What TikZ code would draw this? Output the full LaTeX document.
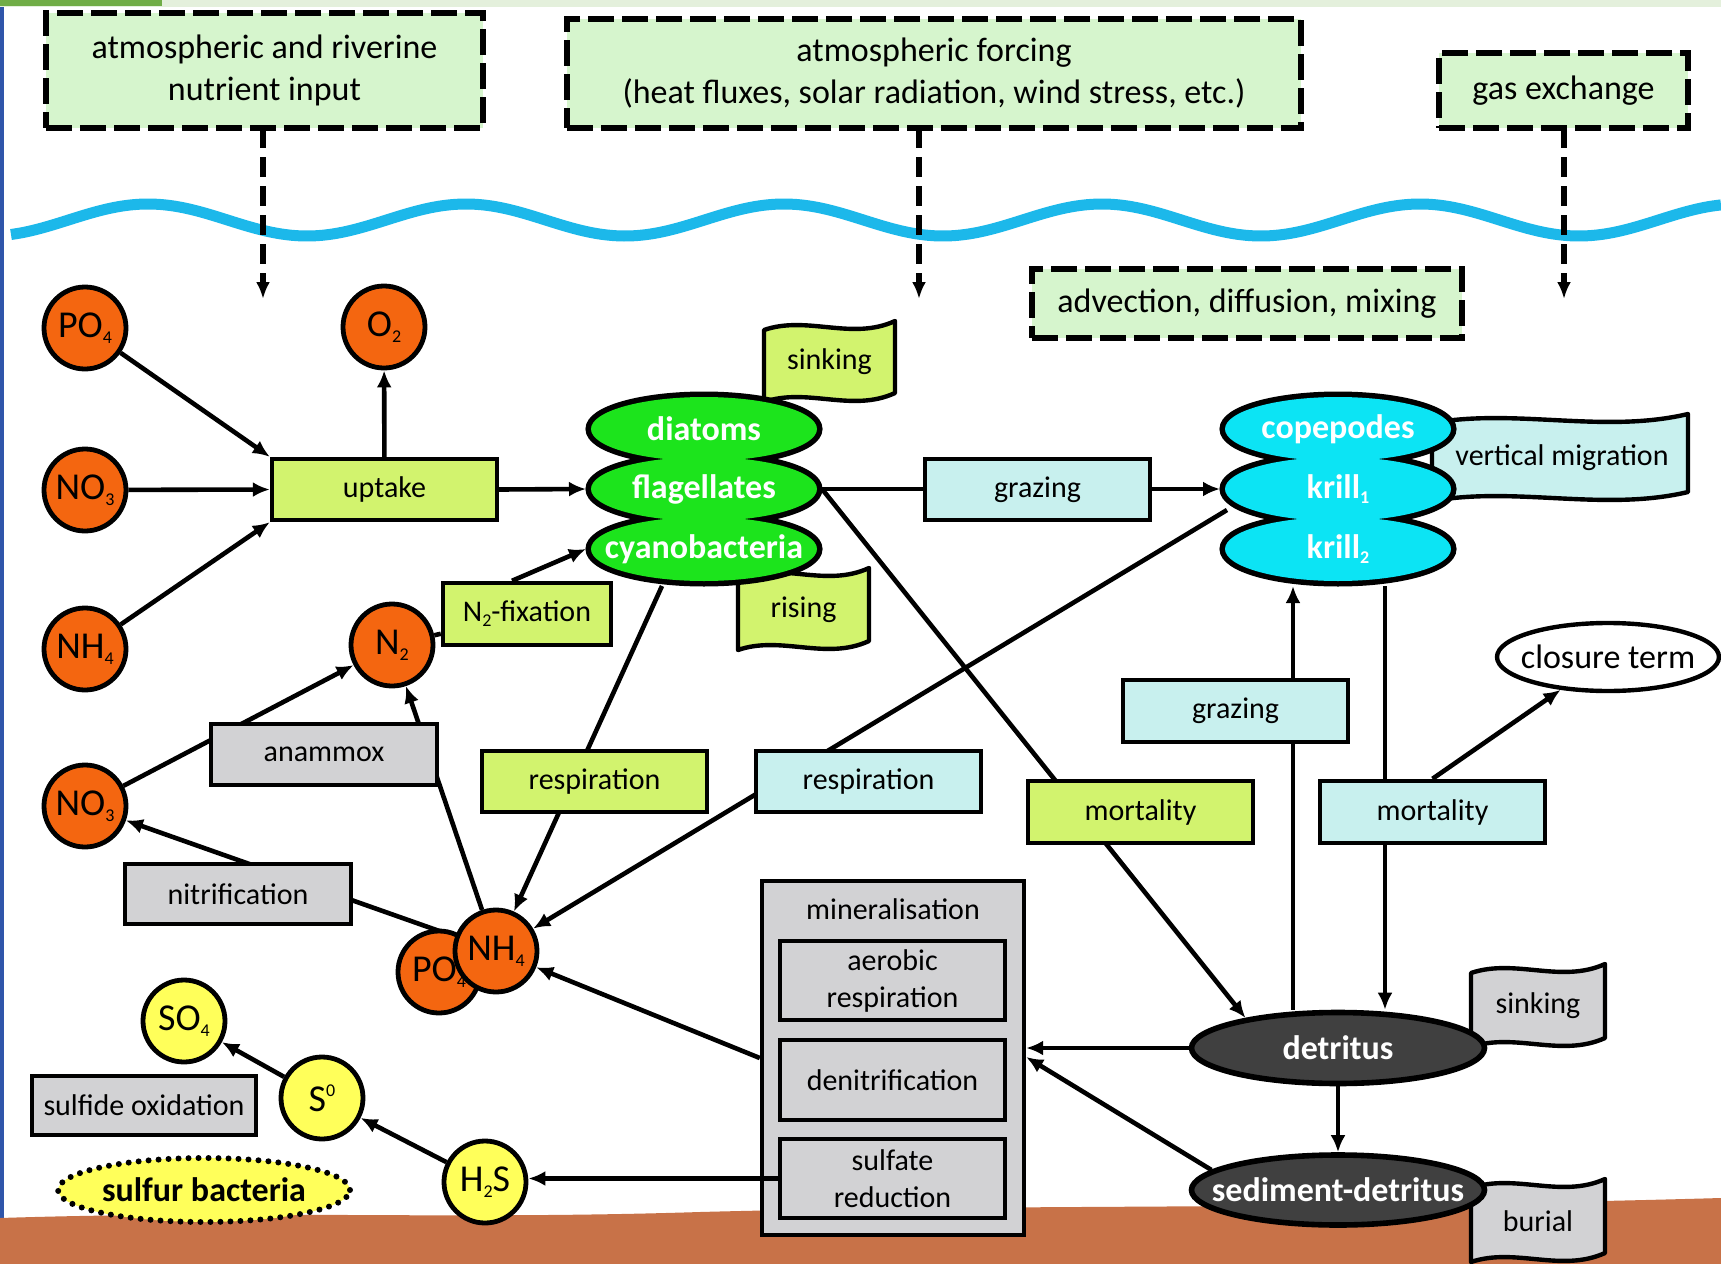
\documentclass[tikz,border=0pt]{standalone}
\usepackage{fontspec}
\setmainfont{Carlito}
\usetikzlibrary{arrows.meta,calc,shapes.geometric}
\pgfdeclarelayer{back}
\pgfdeclarelayer{lines}
\pgfsetlayers{back,lines,main}
\definecolor{topg}{RGB}{214,245,205}
\definecolor{lime}{RGB}{210,243,110}
\definecolor{lcy}{RGB}{200,240,238}
\definecolor{lgr}{RGB}{210,210,212}
\definecolor{orng}{RGB}{244,102,16}
\definecolor{ylw}{RGB}{255,255,90}
\definecolor{grn}{RGB}{28,228,28}
\definecolor{cyn}{RGB}{12,228,244}
\definecolor{dgr}{RGB}{64,64,64}
\definecolor{wavec}{RGB}{28,184,234}
\definecolor{sedc}{RGB}{200,114,72}
\definecolor{stripl}{RGB}{228,240,220}
\definecolor{stripd}{RGB}{112,173,71}
\definecolor{edgeb}{RGB}{47,85,170}
\newcommand\mysub[1]{\raisebox{-0.35ex}{\fontsize{9}{9}\selectfont #1}}
\newcommand\mysup[1]{\raisebox{0.85ex}{\fontsize{9}{9}\selectfont #1}}
\newcommand\bx[7]{\node[#6, minimum width={(#4-#2)*0.5pt}, minimum height={(#5-#3)*0.5pt}] (#1) at ({(#2+#4)/2},{(#3+#5)/2}) {#7};}
\newcommand\wflag[5]{%
  \filldraw[line width=2.2pt, line join=round, fill=#5] ({#1},{#2+4}) .. controls ({#1+0.33*(#3-#1)},{#2-11}) and ({#1+0.67*(#3-#1)},{#2+15}) .. ({#3},{#2-5}) -- ({#3},{#4-5}) .. controls ({#1+0.67*(#3-#1)},{#4+15}) and ({#1+0.33*(#3-#1)},{#4-11}) .. ({#1},{#4+4}) -- cycle;}
\begin{document}
\begin{tikzpicture}[x=0.5pt,y=-0.5pt,
 f17/.style={font=\fontsize{17}{21}\selectfont},
 f15/.style={font=\fontsize{15}{18.5}\selectfont},
 topbox/.style={draw, line width=3pt, dash pattern=on 13pt off 4pt, fill=topg, align=center, f17, inner sep=0, outer sep=0},
 pbox/.style={draw, line width=2.2pt, inner sep=0, f15, align=center},
 lbox/.style={pbox, fill=lime},
 cbox/.style={pbox, fill=lcy},
 gbox/.style={pbox, fill=lgr},
 nut/.style={circle, draw, line width=2.4pt, fill=orng, minimum size=41pt, inner sep=0, font=\fontsize{19}{19}\selectfont},
 ynut/.style={nut, fill=ylw},
 blobn/.style={ellipse, minimum width=118pt, minimum height=37pt, inner sep=0, outer sep=0},
 wtxt/.style={text=white, font=\fontsize{17}{21}\selectfont\bfseries},
 btxt/.style={font=\fontsize{17}{21}\selectfont\bfseries},
 arr/.style={line width=2.3pt, -{Latex[length=8.5pt,width=7.5pt]}},
 ln/.style={line width=2.3pt},
 dar/.style={line width=2.7pt, dash pattern=on 10pt off 4.5pt, -{Latex[length=8.5pt,width=7pt]}}]
\useasboundingbox (0,0) rectangle (1721,1264);
\begin{pgfonlayer}{back}
\fill[white] (0,0) rectangle (1721,1264);
\fill[stripl] (0,0) rectangle (1721,7);
\fill[stripd] (0,0) rectangle (162,6);
\fill[edgeb] (0,7) rectangle (4,1264);
\fill[sedc] (0,1218) .. controls (250,1210) and (450,1220) .. (700,1212) .. controls (1000,1204) and (1300,1210) .. (1721,1198) -- (1721,1264) -- (0,1264) -- cycle;
\draw[wavec, line width=5.5pt] plot[domain=11:1721, samples=160, smooth] (\x, {220-16*sin(1.1321*(\x-68.5))});
\end{pgfonlayer}

% top boxes
\bx{box1}{46}{13}{483}{128}{topbox}{atmospheric and riverine\\nutrient input}
\bx{box2}{567}{19}{1301}{128}{topbox}{atmospheric forcing\\(heat fluxes, solar radiation, wind stress, etc.)}
\bx{box3}{1439}{53}{1688}{128}{topbox}{gas exchange}
\bx{box4}{1032}{269}{1462}{338}{topbox}{advection, diffusion, mixing}
\coordinate (d1) at (263,299);
\coordinate (d2) at (919,299);
\coordinate (d3) at (1564,299);

% flags
\wflag{764}{326}{895}{398}{lime}
\node[f15] (fsink1) at (829.5,362) {sinking};
\wflag{738}{573}{869}{646}{lime}
\node[f15] (frise) at (803.5,609.5) {rising};
\wflag{1432}{419}{1688}{497}{lcy}
\node[f15] (fvert) at (1562,458) {vertical migration};
\wflag{1471}{969}{1605}{1043}{lgr}
\node[f15] (fsink2) at (1538,1006) {sinking};
\wflag{1471}{1184}{1605}{1258}{lgr}
\node[f15] (fbur) at (1538,1221) {burial};

% process boxes
\bx{upt}{272}{459}{497}{520}{lbox}{uptake}
\bx{n2fix}{443}{583}{611}{645}{lbox}{N\mysub{2}-fixation}
\bx{anam}{211}{724}{437}{785}{gbox}{anammox}
\bx{nitr}{125}{864}{351}{924}{gbox}{nitrification}
\bx{resg}{482}{751}{707}{812}{lbox}{respiration}
\bx{resc}{756}{751}{981}{812}{cbox}{respiration}
\bx{grz1}{925}{459}{1150}{520}{cbox}{grazing}
\bx{grz2}{1123}{680}{1348}{742}{cbox}{grazing}
\bx{mrt1}{1028}{781}{1253}{843}{lbox}{mortality}
\bx{mrt2}{1320}{781}{1545}{843}{cbox}{mortality}
\bx{sox}{32}{1076}{256}{1135}{gbox}{sulfide oxidation}
\bx{minb}{762}{881}{1024}{1235}{gbox}{}
\node[f15] (minl) at (893,909) {mineralisation};
\bx{aer}{780}{941}{1005}{1020}{gbox}{aerobic\\respiration}
\bx{den}{780}{1040}{1005}{1120}{gbox}{denitrification}
\bx{sulf}{780}{1139}{1005}{1218}{gbox}{sulfate\\reduction}

% nutrients
\node[nut] (po4a) at (85,328) {PO\mysub{4}};
\node[nut] (o2) at (384,327) {O\mysub{2}};
\node[nut] (no3a) at (85,490) {NO\mysub{3}};
\node[nut] (nh4a) at (85,649) {NH\mysub{4}};
\node[nut] (n2) at (392,645) {N\mysub{2}};
\node[nut] (no3b) at (85,806) {NO\mysub{3}};
\node[nut] (po4b) at (439,972) {PO\mysub{4}};
\node[nut] (nh4b) at (496,951) {NH\mysub{4}};
\node[ynut] (so4) at (184,1021) {SO\mysub{4}};
\node[ynut] (s0) at (322,1098) {S\mysup{0}};
\node[ynut] (h2s) at (485,1182) {H\mysub{2}S};

% phytoplankton blob
\foreach \cy in {429,489,549} \draw[line width=5.5pt] (704,\cy) ellipse [x radius=56.5pt, y radius=16pt];
\foreach \cy in {429,489,549} \fill[grn] (704,\cy) ellipse [x radius=56.5pt, y radius=16pt];
\node[blobn] (diat) at (704,429) {};
\node[blobn] (flag) at (704,489) {};
\node[blobn] (cyb) at (704,549) {};
\node[wtxt] at (diat) {diatoms};
\node[wtxt] at (flag) {flagellates};
\node[wtxt] at (cyb) {cyanobacteria};

% zooplankton blob
\foreach \cy in {429,489,549} \draw[line width=5.5pt] (1338,\cy) ellipse [x radius=56.5pt, y radius=16pt];
\foreach \cy in {429,489,549} \fill[cyn] (1338,\cy) ellipse [x radius=56.5pt, y radius=16pt];
\node[blobn] (cope) at (1338,429) {};
\node[blobn] (kr1) at (1338,489) {};
\node[blobn] (kr2) at (1338,549) {};
\node[wtxt] at (cope) {copepodes};
\node[wtxt] at (kr1) {krill\mysub{1}};
\node[wtxt] at (kr2) {krill\mysub{2}};
\coordinate (zr) at (1227,510);

% detritus etc.
\node[ellipse, draw, line width=2.8pt, fill=dgr, minimum width=146.5pt, minimum height=35.5pt, inner sep=0] (det) at (1338,1048) {};
\node[wtxt] at (det) {detritus};
\node[ellipse, draw, line width=2.8pt, fill=dgr, minimum width=146.5pt, minimum height=35pt, inner sep=0] (sed) at (1338,1190) {};
\node[wtxt] at (sed) {sediment-detritus};
\node[ellipse, draw, line width=2.2pt, fill=white, minimum width=111pt, minimum height=34pt, inner sep=0] (clos) at (1608,657) {};
\node[f17] at (clos) {closure term};
\node[ellipse, draw, line width=3pt, dash pattern=on 0pt off 5pt, line cap=round, fill=ylw, minimum width=146pt, minimum height=32pt, inner sep=0] (sulb) at (204,1190) {};
\node[btxt] at (sulb) {sulfur bacteria};

% connectors
\begin{pgfonlayer}{lines}
\draw[dar] (box1.south -| d1) -- (d1);
\draw[dar] (box2.south -| d2) -- (d2);
\draw[dar] (box3.south -| d3) -- (d3);
\draw[arr] (po4a) -- (upt.north west);
\draw[arr] (no3a) -- (upt.west);
\draw[arr] (nh4a) -- (upt.south west);
\draw[arr] (upt) -- (o2);
\draw[arr] (upt.east) -- (flag.west);
\draw[ln] (n2) -- (n2fix);
\draw[arr] ([xshift=-7.5pt]n2fix.north) -- (cyb.west);
\draw[arr] (no3b) -- (n2);
\draw[arr] (nh4b) -- (n2);
\draw[arr] (nh4b) -- (no3b);
\draw[arr] ($(cyb.south)+(-42,0)$) -- (nh4b);
\draw[arr] (zr) -- (nh4b);
\draw[arr] (flag.east) -- (kr1.west);
\draw[arr] (flag.east) -- (det.162);
\draw[arr] ([xshift=-22.5pt]det.north) -- ([xshift=-22.5pt]kr2.south);
\draw[arr] ([xshift=23.5pt]kr2.south) -- ([xshift=23.5pt]det.north);
\draw[arr] (mrt2.north) -- (clos);
\draw[arr] (det.west) -- (det.west -| minb.east);
\draw[arr] (sed.171) -- ($(det.west -| minb.east)+(0,9)$);
\draw[arr] (det.south) -- (sed.north);
\draw[arr] (minb.west) -- (nh4b);
\draw[arr] (h2s) -- (s0);
\draw[arr] (s0) -- (so4);
\end{pgfonlayer}
\draw[arr] (sulf.west) -- (sulf.west -| h2s.east);
\end{tikzpicture}
\end{document}
